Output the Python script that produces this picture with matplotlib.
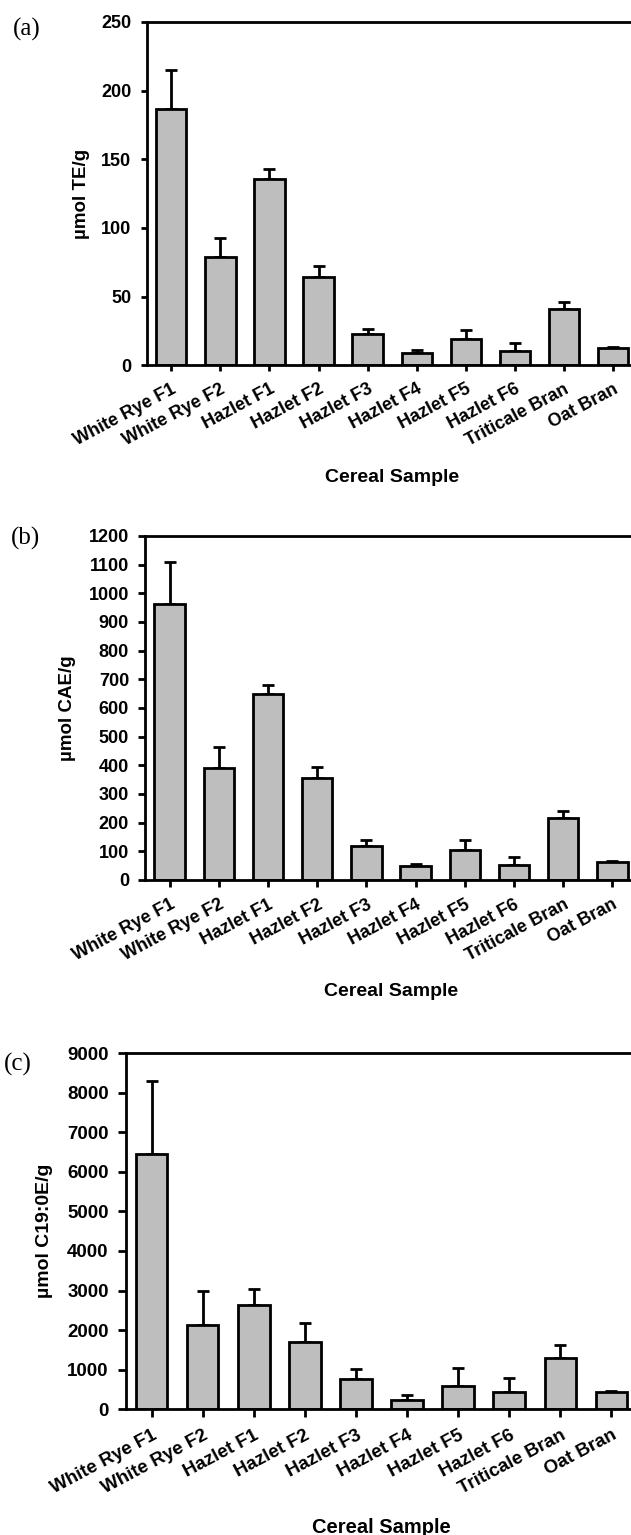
import numpy as np
import matplotlib
matplotlib.use('Agg')
import matplotlib.pyplot as plt

# cereal samples (same order in all three panels)
samples = ['White Rye F1', 'White Rye F2', 'Hazlet F1', 'Hazlet F2', 'Hazlet F3',
           'Hazlet F4', 'Hazlet F5', 'Hazlet F6', 'Triticale Bran', 'Oat Bran']

# (a) umol TE/g
te_mean = [187, 79, 136, 64.5, 22.5, 9, 19, 10.5, 41, 12.4]
te_err = [28, 14, 7, 7.5, 4, 2, 7, 6, 5, 0.8]

# (b) umol CAE/g
cae_mean = [962, 392, 649, 355, 118, 48, 104, 51, 215, 64]
cae_err = [146, 72, 31, 39, 20, 8, 36, 29, 26, 2]

# (c) umol C19:0E/g
c19_mean = [6460, 2136, 2647, 1700, 776, 238, 592, 435, 1295, 425]
c19_err = [1830, 860, 388, 468, 235, 115, 453, 360, 325, 45]

plt.rcParams['font.family'] = ['Liberation Sans', 'DejaVu Sans']
plt.rcParams['font.weight'] = 'bold'

W, H = 631, 1535
fig = plt.figure(figsize=(W / 100, H / 100), dpi=100)


def panel(left, top, bottom, spacing, means, errs, ymax, ystep, ylabel,
          tag, tag_xy, ylab_x, ticklen, fs, xlab_off):
    # axes placed in pixel units, right side runs off the figure like the scan
    x0 = -0.5
    width = 10.0 * spacing
    ax = fig.add_axes([left / W, 1 - bottom / H, width / W, (bottom - top) / H])
    x = np.arange(len(samples))
    ax.bar(x, means, width=0.62, color='#bebebe', edgecolor='black', linewidth=2, zorder=2)
    ax.errorbar(x, means, yerr=[np.zeros(len(errs)), errs], fmt='none', ecolor='black',
                elinewidth=2, capsize=4.2, capthick=2, zorder=1)
    ax.set_xlim(x0, x0 + 10)
    ax.set_ylim(0, ymax)
    ax.set_yticks(np.arange(0, ymax + ystep, ystep))
    ax.set_xticks(x)
    ax.set_xticklabels(samples, rotation=28, ha='right', va='top', rotation_mode='anchor')
    for s in ax.spines.values():
        s.set_linewidth(2)
    ax.tick_params(direction='out', width=2, length=ticklen, labelsize=fs, pad=6.5)
    ax.set_ylabel(ylabel, fontsize=fs + 0.5, fontweight='bold', va='center')
    ax.yaxis.set_label_coords((ylab_x - left) / width, 0.5)
    ax.set_xlabel('Cereal Sample', fontsize=fs + 1, fontweight='bold', va='center')
    ax.xaxis.set_label_coords(0.5, -xlab_off / (bottom - top))
    fig.text(tag_xy[0] / W, 1 - tag_xy[1] / H, tag, family='Liberation Serif',
             fontweight='normal', fontsize=18, ha='center', va='center')
    return ax


panel(146.7, 22, 365.3, 49.1, te_mean, te_err, 250, 50, 'µmol TE/g',
      '(a)', (27, 29), 82, 4.5, 13, 112)
panel(145, 536, 880, 49.2, cae_mean, cae_err, 1200, 100, 'µmol CAE/g',
      '(b)', (25, 538), 67, 5, 13, 112)
panel(126, 1053, 1409.3, 51.1, c19_mean, c19_err, 9000, 1000, 'µmol C19:0E/g',
      '(c)', (18, 1064), 45, 6, 13.5, 118)

plt.savefig('out.png', dpi=100)
